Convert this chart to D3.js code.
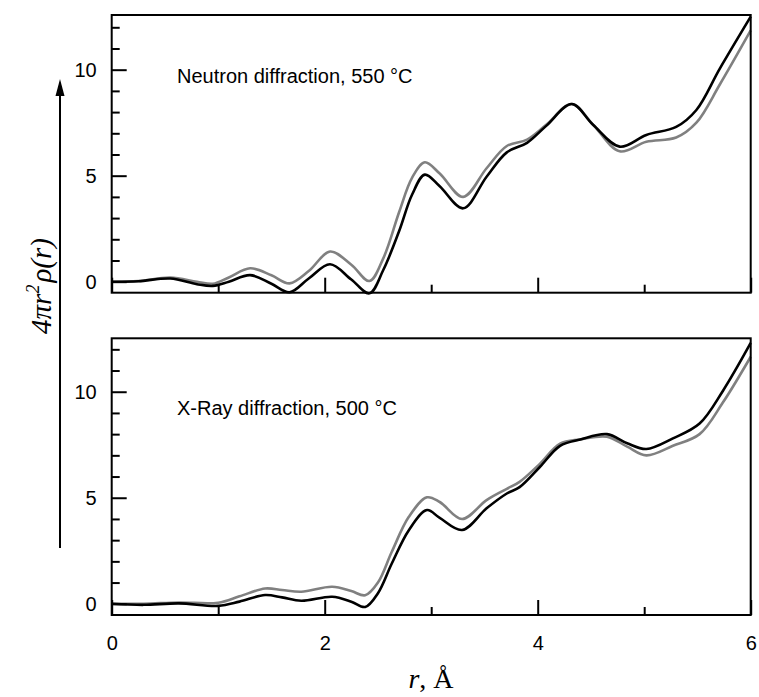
<!DOCTYPE html>
<html>
<head>
<meta charset="utf-8">
<script src="https://cdn.jsdelivr.net/npm/d3@7"></script>
<style>
  body { margin: 0; background: #fff; }
  svg { display: block; }
</style>
</head>
<body>
<div id="graph"></div>
<script>
// r grid and curves, top panel (neutron)
var rTop = [0, 0.25, 0.55, 0.8, 0.95, 1.1, 1.3, 1.5, 1.67, 1.85, 2.05, 2.25, 2.42, 2.55, 2.7, 2.82, 2.94, 3.08, 3.3, 3.52, 3.71, 3.9, 4.08, 4.32, 4.52, 4.77, 5.02, 5.3, 5.49, 5.71, 6.0];
var neutronBlack = [0, 0.02, 0.15, -0.12, -0.2, 0.0, 0.31, -0.1, -0.5, 0.15, 0.82, 0.1, -0.55, 0.55, 2.4, 4.1, 5.05, 4.5, 3.46, 4.95, 6.1, 6.55, 7.35, 8.38, 7.4, 6.37, 6.92, 7.3, 8.1, 10.05, 12.5];
var neutronGray = [0, 0.03, 0.19, 0.0, -0.1, 0.2, 0.63, 0.3, -0.08, 0.5, 1.42, 0.8, 0.03, 1.1, 3.3, 4.9, 5.63, 5.1, 4.0, 5.35, 6.4, 6.7, 7.4, 8.38, 7.4, 6.15, 6.6, 6.8, 7.5, 9.3, 11.85];

// r grid and curves, bottom panel (x-ray)
var rBottom = [0, 0.3, 0.63, 1.0, 1.2, 1.44, 1.6, 1.78, 2.07, 2.25, 2.38, 2.5, 2.63, 2.79, 2.96, 3.08, 3.29, 3.52, 3.71, 3.83, 4.02, 4.21, 4.4, 4.65, 4.84, 5.02, 5.27, 5.52, 5.74, 6.0];
var xrayBlack = [0, -0.05, 0.02, -0.1, 0.1, 0.41, 0.3, 0.14, 0.33, 0.1, -0.15, 0.5, 1.9, 3.47, 4.42, 4.05, 3.48, 4.5, 5.2, 5.5, 6.45, 7.45, 7.75, 8.0, 7.57, 7.3, 7.8, 8.5, 10.05, 12.3];
var xrayGray = [0, 0.0, 0.06, 0.05, 0.35, 0.72, 0.65, 0.57, 0.8, 0.6, 0.4, 1.0, 2.45, 4.1, 5.02, 4.8, 4.0, 4.89, 5.42, 5.75, 6.6, 7.55, 7.75, 7.88, 7.41, 7.0, 7.45, 8.0, 9.5, 11.65];

// ticks
var xMajor = [0, 2, 4, 6];
var xMinor = [1, 3, 5];
var yMajor = [0, 5, 10];
var yMinor = [1, 2, 3, 4, 6, 7, 8, 9, 11, 12];

var panelTitles = ["Neutron diffraction, 550 \u00B0C", "X-Ray diffraction, 500 \u00B0C"];

var svg = d3.select("#graph").append("svg")
    .attr("width", 759)
    .attr("height", 697);

var left = 111.7, right = 750.7;
var xScale = d3.scaleLinear().domain([0, 6]).range([left, right]);

var panels = [
  {top: 15, bottom: 292.7, domain: [-0.52, 12.58], r: rTop, black: neutronBlack, gray: neutronGray, title: panelTitles[0], titleY: 83, labels: false},
  {top: 338.3, bottom: 615, domain: [-0.53, 12.52], r: rBottom, black: xrayBlack, gray: xrayGray, title: panelTitles[1], titleY: 415, labels: true}
];

var tickFont = "'Liberation Sans', Arial, sans-serif";

panels.forEach(function(p) {
    var yScale = d3.scaleLinear().domain(p.domain).range([p.bottom, p.top]);

    var line = d3.line()
        .x(function(d) { return xScale(d[0]); })
        .y(function(d) { return yScale(d[1]); })
        .curve(d3.curveCatmullRom.alpha(0.5));

    var g = svg.append("g");

    // curves: gray underneath, black on top
    g.append("path")
        .datum(p.r.map(function(r, i) { return [r, p.gray[i]]; }))
        .attr("d", line)
        .attr("fill", "none")
        .attr("stroke", "#808080")
        .attr("stroke-width", 2.6);
    g.append("path")
        .datum(p.r.map(function(r, i) { return [r, p.black[i]]; }))
        .attr("d", line)
        .attr("fill", "none")
        .attr("stroke", "#000")
        .attr("stroke-width", 2.6);

    // y axis, ticks inside
    var yAxis = d3.axisLeft(yScale).tickValues(yMajor).tickSizeInner(-15).tickSizeOuter(0).tickPadding(15).tickFormat(d3.format("d"));
    var gY = g.append("g").attr("transform", "translate(" + left + ",0)").call(yAxis);
    var yAxisMinor = d3.axisLeft(yScale).tickValues(yMinor).tickSizeInner(-8).tickSizeOuter(0).tickFormat("");
    var gYm = g.append("g").attr("transform", "translate(" + left + ",0)").call(yAxisMinor);

    // x axis, ticks inside
    var xAxis = d3.axisBottom(xScale).tickValues(xMajor).tickSizeInner(-15).tickSizeOuter(0).tickPadding(21)
        .tickFormat(p.labels ? d3.format("d") : "");
    var gX = g.append("g").attr("transform", "translate(0," + p.bottom + ")").call(xAxis);
    var xAxisMinor = d3.axisBottom(xScale).tickValues(xMinor).tickSizeInner(-8).tickSizeOuter(0).tickFormat("");
    var gXm = g.append("g").attr("transform", "translate(0," + p.bottom + ")").call(xAxisMinor);

    [gY, gYm, gX, gXm].forEach(function(a) {
        a.select(".domain").remove();
        a.selectAll("line").attr("stroke", "#000").attr("stroke-width", 2);
        a.selectAll("text").attr("font-family", tickFont).attr("font-size", 20).attr("fill", "#000");
    });

    // frame
    g.append("rect")
        .attr("x", left)
        .attr("y", p.top)
        .attr("width", right - left)
        .attr("height", p.bottom - p.top)
        .attr("fill", "none")
        .attr("stroke", "#000")
        .attr("stroke-width", 2);

    g.append("text")
        .attr("x", 177)
        .attr("y", p.titleY)
        .attr("font-family", tickFont)
        .attr("font-size", 20)
        .text(p.title);
});

// x axis title
var xt = svg.append("text")
    .attr("x", 431)
    .attr("y", 688)
    .attr("text-anchor", "middle")
    .attr("font-family", "'Liberation Serif', 'Times New Roman', serif")
    .attr("font-size", 28);
xt.append("tspan").attr("font-style", "italic").text("r");
xt.append("tspan").text(", \u00C5");

// y axis title, rotated
var yt = svg.append("text")
    .attr("transform", "translate(51,286) rotate(-90)")
    .attr("text-anchor", "middle")
    .attr("font-family", "'Liberation Serif', 'Times New Roman', serif")
    .attr("font-style", "italic")
    .attr("font-size", 29);
yt.append("tspan").text("4\u03C0r");
yt.append("tspan").attr("font-size", 18).attr("dy", -12).text("2");
yt.append("tspan").attr("dy", 12).attr("dx", 2).text("\u03C1(r)");

// arrow along the y title
svg.append("line")
    .attr("x1", 60).attr("x2", 60)
    .attr("y1", 548).attr("y2", 92)
    .attr("stroke", "#000")
    .attr("stroke-width", 2);
svg.append("path")
    .attr("d", "M60,79 L55.5,96 L64.5,96 Z")
    .attr("fill", "#000");
</script>
</body>
</html>
